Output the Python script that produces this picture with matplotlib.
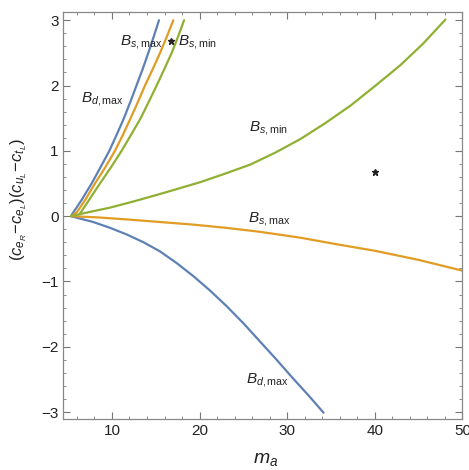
import matplotlib
matplotlib.use("Agg")
import matplotlib.pyplot as plt
from matplotlib.ticker import MultipleLocator

plt.rcParams['font.family'] = ['Liberation Sans', 'DejaVu Sans']
plt.rcParams['mathtext.fontset'] = 'custom'
plt.rcParams['mathtext.rm'] = 'Liberation Sans'
plt.rcParams['mathtext.it'] = 'Liberation Sans:italic'
plt.rcParams['mathtext.bf'] = 'Liberation Sans:bold'

# Data
bd_up_x = [5.31, 6.5, 7.68, 8.7, 9.7, 10.55, 11.37, 12.1, 12.8, 13.5, 14.15, 14.77, 15.37]
bd_up_y = [0, 0.24, 0.5, 0.75, 1.0, 1.25, 1.5, 1.75, 2.0, 2.25, 2.5, 2.75, 3.0]
bd_lo_x = [5.31, 7.87, 9.8, 11.68, 13.6, 15.49, 17.4, 19.3, 21.2, 23.1, 25.0, 26.9,
           28.8, 30.7, 32.4, 34.15]
bd_lo_y = [0, -0.09, -0.18, -0.28, -0.4, -0.54, -0.72, -0.92, -1.14, -1.38, -1.64,
           -1.92, -2.2, -2.49, -2.74, -3.01]

bsmax_up_x = [5.35, 6.0, 7.0, 8.06, 9.25, 10.34, 11.27, 12.13, 12.97, 13.77, 14.65,
              15.49, 16.27, 17.0]
bsmax_up_y = [0, 0.06, 0.26, 0.5, 0.75, 1.0, 1.25, 1.5, 1.75, 2.0, 2.25, 2.5, 2.75, 3.0]
bsmax_lo_x = [5.35, 8.5, 11.68, 15.5, 19.3, 23.1, 26.9, 31.5, 36.06, 40, 45, 50]
bsmax_lo_y = [0, -0.02, -0.05, -0.09, -0.13, -0.18, -0.24, -0.33, -0.44, -0.53,
              -0.67, -0.835]

bsmin_up_x = [5.35, 6.3, 7.4, 8.63, 9.9, 11.1, 12.2, 13.28, 14.2, 15.1, 15.97, 16.82,
              17.55, 18.23]
bsmin_up_y = [0, 0.03, 0.25, 0.5, 0.75, 1.0, 1.25, 1.5, 1.75, 2.0, 2.25, 2.5, 2.75, 3.0]
bsmin_lo_x = [6.3, 8.0, 9.77, 12.6, 15.5, 17.8, 20.06, 22.9, 25.8, 28.6, 31.5, 34.3,
              37.2, 40.0, 42.9, 45.5, 48.06]
bsmin_lo_y = [0.03, 0.08, 0.13, 0.23, 0.34, 0.43, 0.52, 0.65, 0.79, 0.97, 1.18, 1.42,
              1.69, 1.99, 2.31, 2.64, 3.01]

stars_x = [16.7, 40.0]
stars_y = [2.68, 0.68]

labels = [
    (r'$B_{d,\mathrm{max}}$', 8.86, 1.8),
    (r'$B_{s,\mathrm{max}}$', 13.37, 2.66),
    (r'$B_{s,\mathrm{min}}$', 19.77, 2.66),
    (r'$B_{s,\mathrm{min}}$', 27.83, 1.35),
    (r'$B_{s,\mathrm{max}}$', 27.89, -0.05),
    (r'$B_{d,\mathrm{max}}$', 27.77, -2.51),
]

blue = '#5E81B5'
orange = '#E19C24'
green = '#8FB032'

fig = plt.figure(figsize=(4.69, 4.70), dpi=100)
ax = fig.add_axes([0.135, 0.108, 0.851, 0.867])

lw = 1.6
kw = dict(lw=lw, solid_joinstyle='round', solid_capstyle='round')
ax.plot(bd_up_x, bd_up_y, color=blue, **kw)
ax.plot(bd_lo_x, bd_lo_y, color=blue, **kw)
ax.plot(bsmax_up_x, bsmax_up_y, color=orange, **kw)
ax.plot(bsmax_lo_x, bsmax_lo_y, color=orange, **kw)
ax.plot(bsmin_up_x, bsmin_up_y, color=green, **kw)
ax.plot(bsmin_lo_x, bsmin_lo_y, color=green, **kw)

ax.plot(stars_x, stars_y, linestyle='none', marker='*', color='#222222',
        markersize=5)

for t, x, y in labels:
    ax.text(x, y, t, fontsize=11, ha='center', va='center', color='#222222')

ax.set_xlim(4.45, 50)
ax.set_ylim(-3.11, 3.13)

ax.xaxis.set_major_locator(MultipleLocator(10))
ax.xaxis.set_minor_locator(MultipleLocator(2))
ax.yaxis.set_major_locator(MultipleLocator(1))
ax.yaxis.set_minor_locator(MultipleLocator(0.2))

ax.tick_params(which='both', direction='in', top=True, right=True,
               color='#777777', labelsize=11, labelcolor='#222222')
ax.tick_params(which='major', length=5, width=0.8)
ax.tick_params(which='minor', length=2.5, width=0.6)
ax.set_xticks([10, 20, 30, 40, 50])
ax.set_xticklabels(['10', '20', '30', '40', '50'])
ax.set_yticks([-3, -2, -1, 0, 1, 2, 3])
ax.set_yticklabels(['\u22123', '\u22122', '\u22121', '0', '1', '2', '3'])
for s in ax.spines.values():
    s.set_color('#888888')
    s.set_linewidth(0.9)

ax.set_xlabel(r'$m_a$', fontsize=14, color='#222222')
ax.xaxis.set_label_coords(0.506, -0.078)
ax.set_ylabel(r'$(c_{e_R}\!-\!c_{e_L})(c_{u_L}\!-\!c_{t_L})$', fontsize=12,
              color='#222222')
ax.yaxis.set_label_coords(-0.085, 0.54)

fig.savefig('out.png', dpi=100)
